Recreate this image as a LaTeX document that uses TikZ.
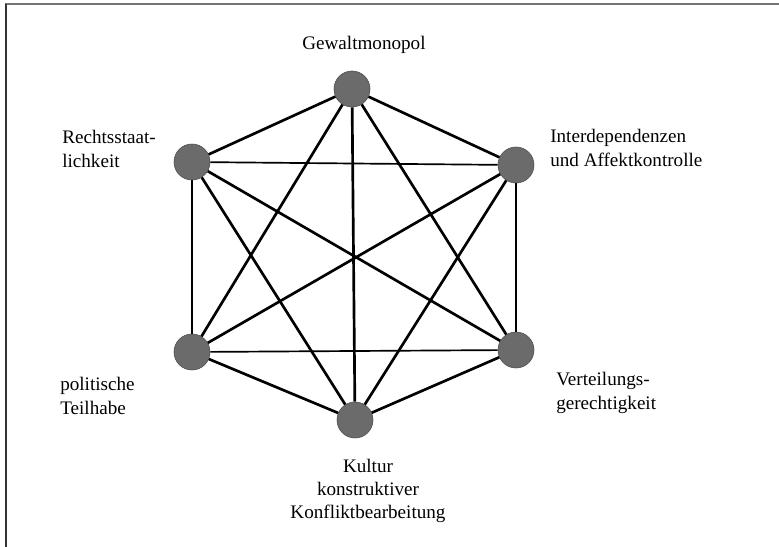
\documentclass[tikz,border=0pt]{standalone}
\usepackage{fontspec}
\setmainfont{Liberation Serif}
\usetikzlibrary{positioning}

\begin{document}
\begin{tikzpicture}[x=0.025cm,y=-0.025cm,
    vertex/.style={circle,fill=black!58,draw=black!70,line width=0.4pt,minimum size=0.9cm,inner sep=0pt},
    lbl/.style={inner sep=0pt,font=\fontsize{13.6}{16.6}\selectfont},
    edge/.style={line width=1.9pt},
    thinedge/.style={line width=1.2pt}]
    \useasboundingbox (0,0) rectangle (779,547);
    \draw[black!55,line width=1.6pt] (6,547) |- (779,4);
    \draw[black!80,line width=1.2pt] (6,4) -- (6,547);

    \node[vertex] (t)  at (352,89)  {};
    \node[vertex] (ul) at (192,162) {};
    \node[vertex] (ur) at (516,165) {};
    \node[vertex] (ll) at (192,352) {};
    \node[vertex] (lr) at (516,350) {};
    \node[vertex] (b)  at (355,420) {};

    \node[lbl] (lt)  at (364,45) {Gewaltmonopol};
    \node[lbl,anchor=west,align=left] (lul) at (62,149) {Rechtsstaat-\\lichkeit};
    \node[lbl,anchor=west,align=left] (lur) at (550,148) {Interdependenzen\\und Affektkontrolle};
    \node[lbl,anchor=west,align=left] (lll) at (60,396) {politische\\Teilhabe};
    \node[lbl,anchor=west,align=left] (llr) at (556,393) {Verteilungs-\\gerechtigkeit};
    \node[lbl,align=center] (lb) at (368,491) {Kultur\\konstruktiver\\Konfliktbearbeitung};

    \draw[edge] (t) -- (ul);
    \draw[edge] (t) -- (ur);
    \draw[edge] (t) -- (ll);
    \draw[edge] (t) -- (lr);
    \draw[edge] (t) -- (b);
    \draw[thinedge] (ul) -- (ur);
    \draw[edge] (ul) -- (ll);
    \draw[edge] (ul) -- (lr);
    \draw[edge] (ul) -- (b);
    \draw[edge] (ur) -- (ll);
    \draw[edge] (ur) -- (lr);
    \draw[edge] (ur) -- (b);
    \draw[thinedge] (ll) -- (lr);
    \draw[edge] (ll) -- (b);
    \draw[edge] (lr) -- (b);
\end{tikzpicture}
\end{document}
